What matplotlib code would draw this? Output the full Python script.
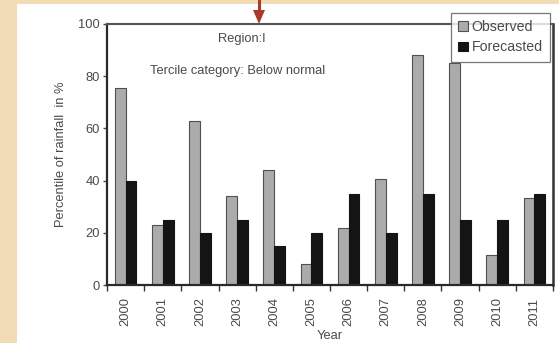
import numpy as np
import matplotlib.pyplot as plt
from matplotlib.patches import Rectangle, Polygon
from matplotlib.lines import Line2D

plt.rcParams['font.family'] = ['Liberation Sans', 'DejaVu Sans']

# Data
years = ['2000', '2001', '2002', '2003', '2004', '2005',
         '2006', '2007', '2008', '2009', '2010', '2011']
observed = [75.5, 23, 63, 34, 44, 8, 22, 40.5, 88, 85, 11.5, 33.5]
forecasted = [40, 25, 20, 25, 15, 20, 35, 20, 35, 25, 25, 35]

W, H = 559, 343
TEXT = '#4a4a4a'
BEIGE = '#f2dcb6'
FS = 9.3

fig = plt.figure(figsize=(W / 100, H / 100), dpi=100, facecolor='white')

# beige page strips around the pasted chart
fig.add_artist(Rectangle((0, 0), 17 / W, 1, transform=fig.transFigure,
                         facecolor=BEIGE, edgecolor='none', zorder=0))
fig.add_artist(Rectangle((0, 1 - 4 / H), 1, 4 / H, transform=fig.transFigure,
                         facecolor=BEIGE, edgecolor='none', zorder=0))

ax = fig.add_axes([107 / W, (H - 285) / H, (553 - 107) / W, (285 - 24) / H])

x = np.arange(len(years))
bw = 0.29
ax.bar(x - bw / 2, observed, bw, color='#ababab', edgecolor='#505050',
       linewidth=0.8, label='Observed')
ax.bar(x + bw / 2, forecasted, bw, color='#141414', edgecolor='#141414',
       linewidth=0.8, label='Forecasted')

ax.set_xlim(-0.5, len(years) - 0.5)
ax.set_ylim(0, 100)
ax.set_yticks(range(0, 101, 20))
ax.tick_params(axis='y', labelsize=FS, colors=TEXT, length=3, width=1, pad=2)

# ticks between categories, labels at centers
ax.set_xticks(np.arange(len(years) + 1) - 0.5)
ax.set_xticklabels([])
ax.set_xticks(x, minor=True)
ax.set_xticklabels(years, minor=True, rotation=90, fontsize=FS, color=TEXT)
ax.tick_params(axis='x', which='major', length=4, width=1, color='#333333')
ax.tick_params(axis='x', which='minor', length=0, pad=9)

for side in ['left', 'bottom']:
    ax.spines[side].set_color('#2a2a2a')
    ax.spines[side].set_linewidth(1.6)
ax.spines['top'].set_color('#555555')
ax.spines['top'].set_linewidth(1.5)
ax.spines['right'].set_color('#333333')
ax.spines['right'].set_linewidth(1.8)

ax.set_ylabel('Percentile of rainfall  in %', fontsize=FS, color=TEXT, labelpad=8)
fig.text(330 / W, 1 - 336 / H, 'Year', fontsize=FS, color=TEXT,
         ha='center', va='center')

fig.text(242 / W, 1 - 39 / H, 'Region:I', fontsize=FS, color=TEXT,
         ha='center', va='center')
fig.text(150 / W, 1 - 71 / H, 'Tercile category: Below normal', fontsize=FS,
         color=TEXT, ha='left', va='center')

leg = ax.legend(loc='upper right', bbox_to_anchor=(550 / W, 1 - 13 / H),
                bbox_transform=fig.transFigure, fontsize=10.2, frameon=True,
                fancybox=False, edgecolor='#555555', handlelength=0.7,
                handleheight=0.7, handletextpad=0.25, borderpad=0.5,
                labelspacing=0.45, borderaxespad=0)
leg.get_frame().set_linewidth(0.9)
for t in leg.get_texts():
    t.set_color(TEXT)

# red arrow pointing at the chart
fig.add_artist(Line2D([259 / W, 259 / W], [1, 1 - 12 / H], transform=fig.transFigure,
                      color='#a8392c', linewidth=2.2))
fig.add_artist(Polygon([(253 / W, 1 - 10 / H), (265 / W, 1 - 10 / H),
                        (259 / W, 1 - 24 / H)], closed=True,
                       transform=fig.transFigure, facecolor='#a8392c',
                       edgecolor='none'))

fig.savefig('out.png', dpi=100, facecolor=fig.get_facecolor())
